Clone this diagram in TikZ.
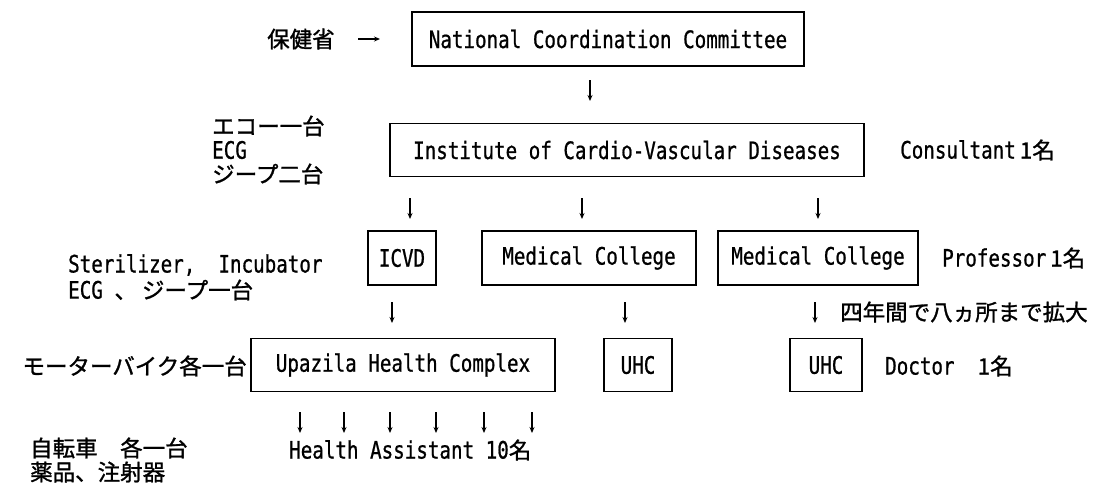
\documentclass[tikz,border=0pt]{standalone}
\usepackage{fontspec}
\usetikzlibrary{arrows.meta}
\newfontfamily\lat[FakeStretch=0.8,FakeBold=0.8]{DejaVu Sans Mono}
\newfontfamily\jp[FakeBold=1.2]{Noto Sans CJK JP}
\newcommand{\LF}{\fontsize{24}{26}\lat}
\newcommand{\JF}{\fontsize{22.5}{26}\jp}
\begin{document}
\begin{tikzpicture}[x=1pt,y=-1pt,
  box/.style={draw=black,line width=1.3pt,inner sep=0pt,font=\LF},
  lbl/.style={inner sep=0pt,font=\LF},
  jlbl/.style={inner sep=0pt,font=\JF},
  mix/.style={inner sep=0pt},
  arr/.style={line width=1.2pt,-{Stealth[length=6pt,width=5pt]}}]
\useasboundingbox (0,0) rectangle (1111,491);
\fill[white] (0,0) rectangle (1111,491);
% boxes
\node[box,minimum width=392pt,minimum height=54pt] (ncc) at (608,39) {National Coordination Committee};
\node[box,minimum width=474pt,minimum height=53pt] (icvdis) at (627,150) {Institute of Cardio-Vascular Diseases};
\node[box,minimum width=68pt,minimum height=54pt] (icvd) at (402,258) {ICVD};
\node[box,minimum width=214pt,minimum height=54pt] (mc1) at (589,258) {Medical College};
\node[box,minimum width=200pt,minimum height=54pt] (mc2) at (818,258) {Medical College};
\node[box,minimum width=304pt,minimum height=53pt] (uhc) at (403,365) {Upazila Health Complex};
\node[box,minimum width=68pt,minimum height=53pt] (uhc1) at (638,365) {UHC};
\node[box,minimum width=72pt,minimum height=53pt] (uhc2) at (826,365) {UHC};
% labels
\node[jlbl,anchor=west] (moh) at (267,39) {保健省};
\coordinate (mohs) at (358,39); \coordinate (mohe) at (380,39);
\draw[arr] (mohs) -- (mohe);
\node[jlbl,anchor=west] (echo) at (212,126) {エコー一台};
\node[lbl,anchor=west] (ecg1) at (212,150) {ECG};
\node[jlbl,anchor=west] (jeep2) at (212,174) {ジープ二台};
\node[mix,anchor=west] (cons) at (900,150) {\LF Consultant\,\JF 1名};
\node[mix,anchor=west] (prof) at (942,258) {\LF Professor\,\JF 1名};
\node[lbl,anchor=west] (steril) at (68,265) {Sterilizer,\ \ Incubator};
\node[mix,anchor=west] (ecg2) at (68,290) {\LF ECG\ \JF 、\ ジープ一台};
\node[jlbl,anchor=west] (expand) at (840,312) {四年間で八ヵ所まで拡大};
\node[jlbl,anchor=east] (moto) at (247,366) {モーターバイク各一台};
\node[mix,anchor=west] (doc) at (885,366) {\LF Doctor\ \ \JF 1名};
\node[mix,anchor=west] (ha) at (289,450) {\LF Health Assistant 10\JF 名};
\node[jlbl,anchor=west] (bike) at (30,448) {自転車\quad 各一台};
\node[jlbl,anchor=west] (drug) at (30,472) {薬品、注射器};
% arrows
\foreach \n/\x/\y in {a/590/80, b/410/198, c/582/198, d/818/198, e/392/302, f/625/302, g/815/302,
  h1/300/412, h2/344/412, h3/390/412, h4/436/412, h5/484/412, h6/532/412}{
  \coordinate (\n s) at (\x,\y);
  \coordinate (\n e) at (\x,\y+21);
  \draw[arr] (\n s) -- (\n e);
}
\end{tikzpicture}
\end{document}
